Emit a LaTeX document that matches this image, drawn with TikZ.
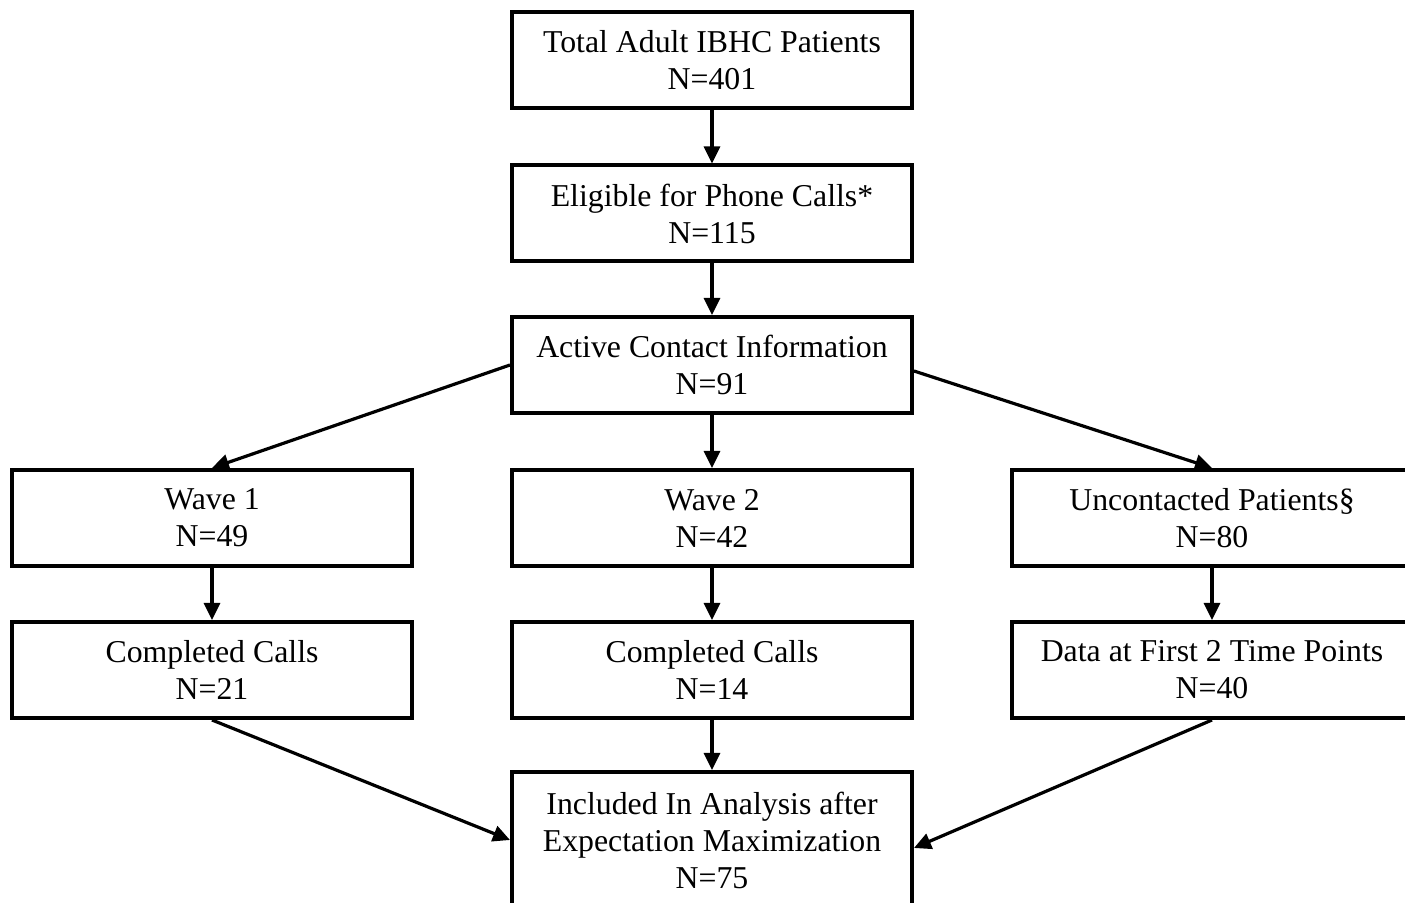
\documentclass[tikz,border=0pt]{standalone}
\usepackage{fontspec}
\setmainfont{Liberation Serif}
\usetikzlibrary{arrows.meta}
\begin{document}
\begin{tikzpicture}[x=0.5pt,y=-0.5pt,
  box/.style={draw,line width=2pt,minimum width=200pt,minimum height=48pt,align=center,inner sep=0pt,font=\fontsize{15.9}{18.5}\selectfont},
  arr/.style={line width=1.6pt,-{Triangle[length=8.5pt,width=8pt]}}]
\useasboundingbox (0,0) rectangle (1405,903);
\node[box] (tot) at (712,60) {Total Adult IBHC Patients\\N=401};
\node[box] (elig) at (712,213.5) {Eligible for Phone Calls*\\N=115};
\node[box] (act) at (712,365) {Active Contact Information\\N=91};
\node[box] (w1) at (212,518) {Wave 1\\N=49};
\node[box] (w2) at (712,518) {Wave 2\\N=42};
\node[box] (unc) at (1212,518) {Uncontacted Patients§\\N=80};
\node[box] (c1) at (212,670) {Completed Calls\\N=21};
\node[box] (c2) at (712,670) {Completed Calls\\N=14};
\node[box] (dat) at (1212,670) {Data at First 2 Time Points\\N=40};
\node[box,minimum height=68pt] (inc) at (712,840) {Included In Analysis after\\Expectation Maximization\\N=75};
\draw[arr] (tot.south) -- (elig.north);
\draw[arr] (elig.south) -- (act.north);
\draw[arr] (act.west) -- (w1.north);
\draw[arr] (act.south) -- (w2.north);
\draw[arr] ([yshift=-3pt]act.east) -- (unc.north);
\draw[arr] (w1.south) -- (c1.north);
\draw[arr] (w2.south) -- (c2.north);
\draw[arr] (unc.south) -- (dat.north);
\draw[arr] (c1.south) -- (inc.west);
\draw[arr] (c2.south) -- (inc.north);
\draw[arr] (dat.south) -- ([yshift=-4pt]inc.east);
\end{tikzpicture}
\end{document}
